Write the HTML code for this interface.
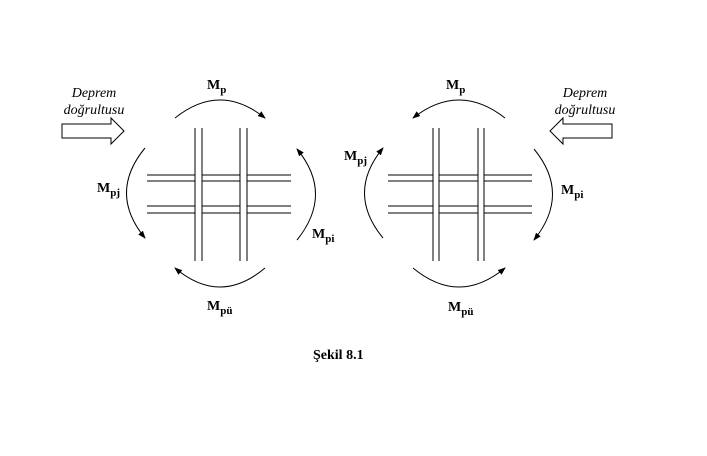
<!DOCTYPE html>
<html><head><style>body{margin:0;background:#fff}svg{display:block}text{font-family:"Liberation Serif",serif}</style></head><body>
<svg width="707" height="456" viewBox="0 0 707 456" xmlns="http://www.w3.org/2000/svg">
<defs><marker id="a" markerWidth="8" markerHeight="6" refX="7" refY="3" orient="auto" markerUnits="userSpaceOnUse"><path d="M0 0L8 3L0 6z" fill="#000"/></marker></defs>
<g stroke="#000" stroke-width="1" fill="none">
<!-- left frame -->
<path d="M195 128V261M202 128V261M240 128V261M247 128V261"/>
<path d="M147 175H195M202 175H240M247 175H291M147 181H195M202 181H240M247 181H291M147 206H195M202 206H240M247 206H291M147 213H195M202 213H240M247 213H291"/>
<path d="M175 118Q220 82 265 118" marker-end="url(#a)"/>
<path d="M297 240Q334 194 297 149" marker-end="url(#a)"/>
<path d="M145 148Q108 193 145 238" marker-end="url(#a)"/>
<path d="M265 268Q220 306 175 268" marker-end="url(#a)"/>
<!-- right frame -->
<path d="M433 128V261M439 128V261M478 128V261M484 128V261"/>
<path d="M388 175H433M439 175H478M484 175H532M388 181H433M439 181H478M484 181H532M388 206H433M439 206H478M484 206H532M388 213H433M439 213H478M484 213H532"/>
<path d="M505 118Q459 82 413 118" marker-end="url(#a)"/>
<path d="M534 149Q571 194 534 240" marker-end="url(#a)"/>
<path d="M383 238Q346 193 383 148" marker-end="url(#a)"/>
<path d="M413 268Q459 306 505 268" marker-end="url(#a)"/>
<!-- hollow arrows -->
<path d="M62 124H111V118L124 131L111 144V138H62Z"/>
<path d="M612 124H563V118L550 131L563 144V138H612Z"/>
</g>
<g font-style="italic" font-size="14" text-anchor="middle">
<text x="94" y="97">Deprem</text><text x="94" y="114">doğrultusu</text>
<text x="585" y="97">Deprem</text><text x="585" y="114">doğrultusu</text>
</g>
<g font-weight="bold" font-size="14">
<text x="207" y="89">M<tspan font-size="11" dy="4">p</tspan></text>
<text x="97" y="192">M<tspan font-size="11" dy="4">pj</tspan></text>
<text x="312" y="238">M<tspan font-size="11" dy="4">pi</tspan></text>
<text x="207" y="310">M<tspan font-size="11" dy="4">pü</tspan></text>
<text x="446" y="89">M<tspan font-size="11" dy="4">p</tspan></text>
<text x="344" y="160">M<tspan font-size="11" dy="4">pj</tspan></text>
<text x="561" y="194">M<tspan font-size="11" dy="4">pi</tspan></text>
<text x="448" y="311">M<tspan font-size="11" dy="4">pü</tspan></text>
<text x="313" y="359">Şekil 8.1</text>
</g>
</svg>
</body></html>
